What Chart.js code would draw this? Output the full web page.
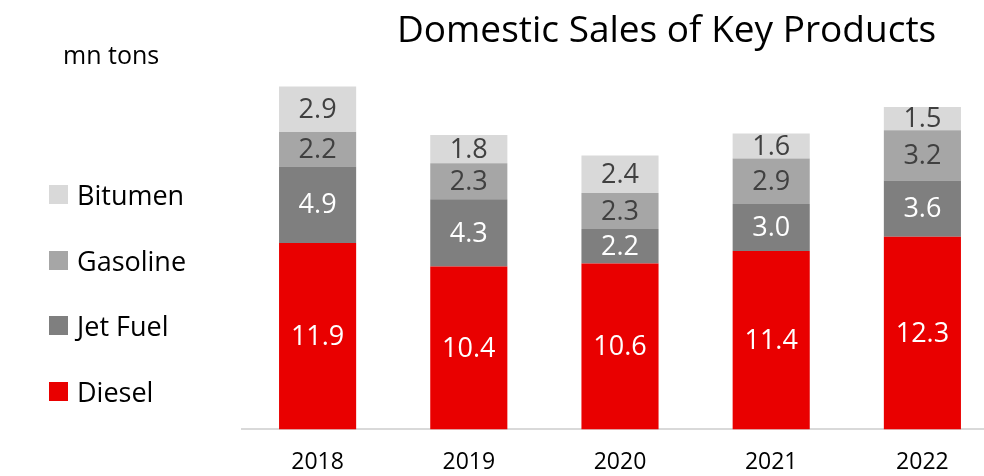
<!DOCTYPE html>
<html>
<head>
<meta charset="utf-8">
<script src="https://cdn.jsdelivr.net/npm/chart.js@4"></script>
<style>
  html, body { margin: 0; padding: 0; background: #fff; overflow: hidden; }
  #wrap { position: relative; width: 984px; height: 476px; overflow: hidden; font-family: 'Open Sans', sans-serif; }
  #chart { position: absolute; left: 0; top: 0; }
  .title { position: absolute; left: 397px; top: 9px; font-size: 37px; line-height: 37px; color: #000; white-space: nowrap; }
  .unit { position: absolute; left: 63px; top: 42px; font-size: 25px; line-height: 25px; color: #000; white-space: nowrap; }
  .leg { position: absolute; left: 49px; height: 20px; display: flex; align-items: center; white-space: nowrap; }
  .leg i { display: inline-block; width: 19px; height: 19px; margin-right: 9px; }
  .leg span { font-size: 27px; line-height: 27px; color: #000; }
</style>
</head>
<body>
<div id="wrap">
  <canvas id="chart" width="1000" height="495"></canvas>
  <div class="title">Domestic Sales of Key Products</div>
  <div class="unit">mn tons</div>
</div>
<script>
// data
const years = ['2018', '2019', '2020', '2021', '2022'];
const diesel = [11.9, 10.4, 10.6, 11.4, 12.3];
const jetFuel = [4.9, 4.3, 2.2, 3.0, 3.6];
const gasoline = [2.2, 2.3, 2.3, 2.9, 3.2];
const bitumen = [2.9, 1.8, 2.4, 1.6, 1.5];

const seriesNames = ['Diesel', 'Jet Fuel', 'Gasoline', 'Bitumen'];
const seriesColors = ['#e90000', '#7f7f7f', '#a6a6a6', '#d9d9d9'];
const labelColors = ['#ffffff', '#ffffff', '#404040', '#404040'];
const legendCenters = [391, 325, 260, 194];

// value labels in the middle of each segment
const segmentLabels = {
    id: 'segmentLabels',
    afterDatasetsDraw(chart) {
        const ctx = chart.ctx;
        ctx.save();
        ctx.font = "27px 'Open Sans'";
        ctx.textAlign = 'center';
        ctx.textBaseline = 'middle';
        chart.data.datasets.forEach((ds, i) => {
            const meta = chart.getDatasetMeta(i);
            meta.data.forEach((bar, j) => {
                const p = bar.getCenterPoint();
                ctx.fillStyle = labelColors[i];
                ctx.fillText(ds.data[j].toFixed(1), p.x, p.y + 1);
            });
        });
        ctx.restore();
    }
};

const allSeries = [diesel, jetFuel, gasoline, bitumen];

new Chart(document.getElementById('chart'), {
    type: 'bar',
    data: {
        labels: years,
        datasets: allSeries.map((values, i) => ({
            label: seriesNames[i],
            data: values,
            backgroundColor: seriesColors[i],
            borderWidth: 0,
            categoryPercentage: 1,
            barPercentage: 0.51
        }))
    },
    options: {
        responsive: false,
        animation: false,
        layout: { padding: { left: 242, right: 2, top: 38, bottom: 0 } },
        plugins: {
            legend: { display: false },
            title: { display: false },
            tooltip: { enabled: false }
        },
        scales: {
            x: {
                stacked: true,
                grid: { display: false, drawTicks: false },
                border: { display: true, color: '#d9d9d9', width: 2 },
                ticks: {
                    color: '#000',
                    padding: 19,
                    font: { family: 'Open Sans', size: 23, lineHeight: 1.2 }
                }
            },
            y: {
                stacked: true,
                display: false,
                min: 0,
                max: 25
            }
        }
    },
    plugins: [segmentLabels]
});

// legend, top to bottom: Bitumen, Gasoline, Jet Fuel, Diesel
const wrap = document.getElementById('wrap');
seriesNames.forEach((name, i) => {
    const row = document.createElement('div');
    row.className = 'leg';
    row.style.top = (legendCenters[i] - 10) + 'px';
    const box = document.createElement('i');
    box.style.background = seriesColors[i];
    const txt = document.createElement('span');
    txt.textContent = name;
    row.appendChild(box);
    row.appendChild(txt);
    wrap.appendChild(row);
});
</script>
</body>
</html>
